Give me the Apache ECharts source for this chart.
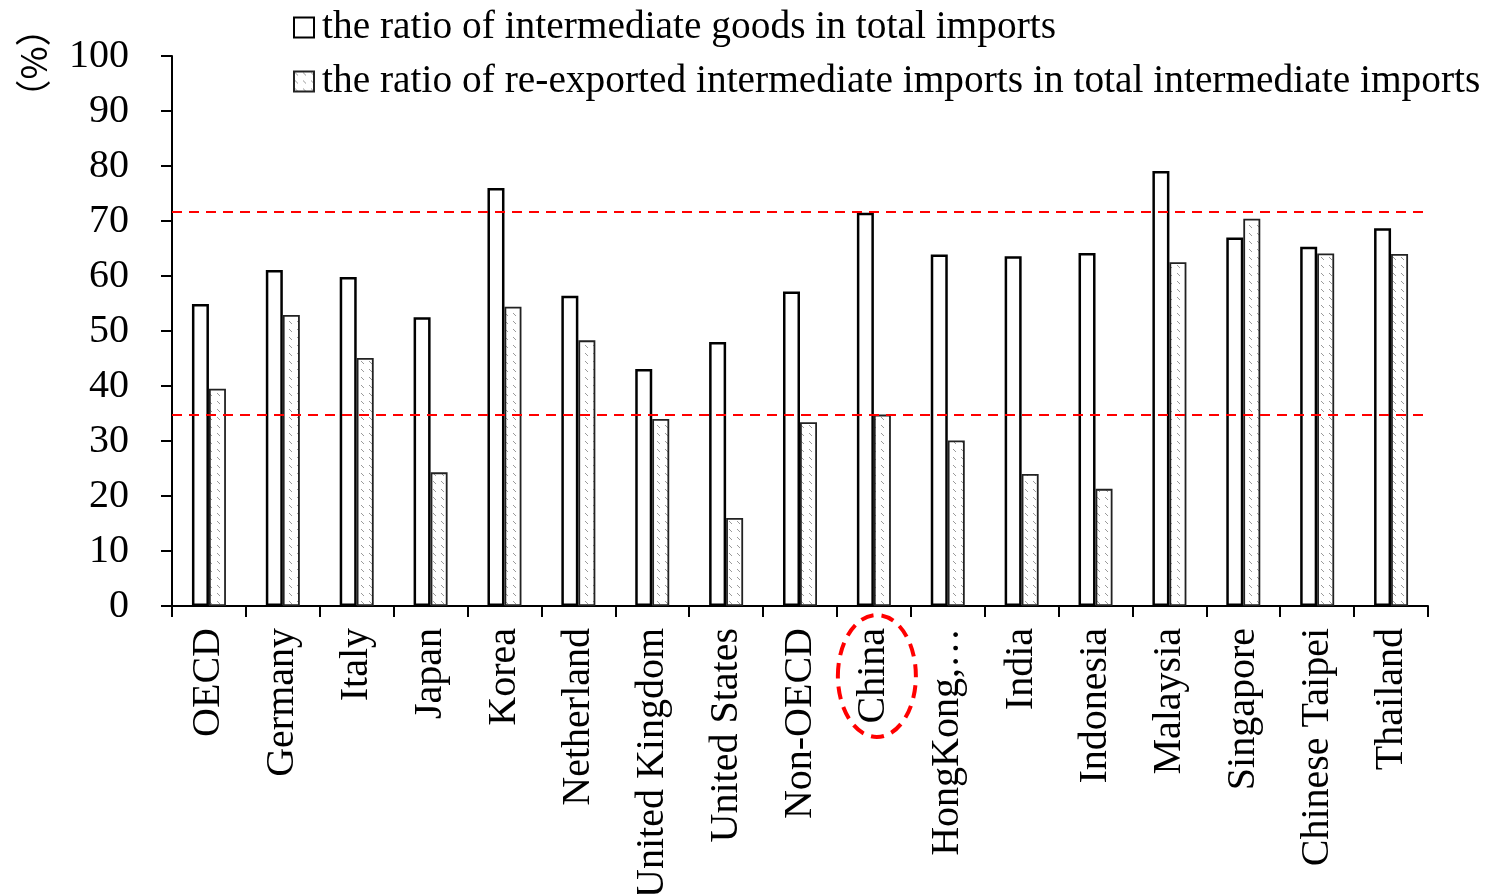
<!DOCTYPE html>
<html>
<head>
<meta charset="utf-8">
<script src="https://cdn.jsdelivr.net/npm/echarts@6/dist/echarts.min.js"></script>
<style>
html,body{margin:0;padding:0;background:#fff;}
#c{width:1487px;height:894px;}
</style>
</head>
<body>
<div id="c"></div>
<script>
const categories = ['OECD','Germany','Italy','Japan','Korea','Netherland','United Kingdom','United States','Non-OECD','China','HongKong,…','India','Indonesia','Malaysia','Singapore','Chinese Taipei','Thailand'];
const seriesNames = ['the ratio of intermediate goods in total imports','the ratio of re-exported intermediate imports in total intermediate imports'];
const intermediateShare = [54.9,61.1,59.8,52.5,76.0,56.4,43.1,48.0,57.2,71.5,63.9,63.6,64.2,79.1,67.0,65.3,68.7];
const reexportShare = [39.5,52.9,45.1,24.3,54.4,48.3,34.0,16.0,33.4,34.8,30.1,24.0,21.3,62.5,70.4,64.1,64.0];
const refLines = [71.6, 34.8];
const yTicks = {min:0, max:100, interval:10};
const highlightCategory = 'China';

const FONT = '"Liberation Serif","Times New Roman",serif';

// hatch pattern for second series
const pc = document.createElement('canvas');
pc.width = 8; pc.height = 8;
const px = pc.getContext('2d');
px.fillStyle = '#fff'; px.fillRect(0,0,8,8);
px.strokeStyle = '#9a9a9a'; px.lineWidth = 1;
px.beginPath(); px.moveTo(1,1); px.lineTo(4,4); px.stroke();

const chart = echarts.init(document.getElementById('c'));
chart.setOption({
  animation:false,
  backgroundColor:'#fff',
  textStyle:{fontFamily:FONT},
  legend:{
    orient:'vertical', left:288, top:3, itemWidth:20, itemHeight:20, itemGap:15,
    icon:'rect',
    textStyle:{fontFamily:FONT, fontSize:39.4, color:'#000', padding:[0,0,0,3]},
    data:seriesNames
  },
  grid:{left:172, right:59, top:56, bottom:288, containLabel:false, outerBoundsMode:'none'},
  xAxis:{
    type:'category', data:categories,
    axisLine:{lineStyle:{color:'#000', width:2}},
    axisTick:{show:true, length:11, lineStyle:{color:'#000', width:2}, alignWithLabel:false},
    axisLabel:{rotate:90, interval:0, margin:22, fontFamily:FONT, fontSize:40, color:'#000'}
  },
  yAxis:{
    type:'value', min:yTicks.min, max:yTicks.max, interval:yTicks.interval,
    axisLine:{show:true, lineStyle:{color:'#000', width:2}},
    axisTick:{show:true, length:11, lineStyle:{color:'#000', width:2}},
    splitLine:{show:false},
    axisLabel:{margin:43, fontFamily:FONT, fontSize:40, color:'#000'}
  },
  series:[
    {
      name:seriesNames[0], type:'bar', data:intermediateShare, barWidth:17, barGap:'0%',
      itemStyle:{color:'#fff', borderColor:'#000', borderWidth:2.5},
      markLine:{
        silent:true, symbol:'none', label:{show:false},
        lineStyle:{color:'#ff0000', type:[10,7], width:2},
        data:refLines.map(v=>({yAxis:v}))
      }
    },
    {
      name:seriesNames[1], type:'bar', data:reexportShare, barWidth:17,
      itemStyle:{color:{image:pc, repeat:'repeat'}, borderColor:'#222', borderWidth:1.8}
    }
  ]
});

const cx = chart.convertToPixel({xAxisIndex:0}, highlightCategory);
const y0 = chart.convertToPixel({yAxisIndex:0}, 0);
chart.setOption({
  graphic:[
    {type:'ellipse', shape:{cx:cx+3, cy:y0+70, rx:39, ry:61}, style:{fill:'none', stroke:'#ff0000', lineWidth:4, lineDash:[13,8]}, z:100},
    {type:'text', x:33, y:63, rotation:Math.PI/2, style:{text:'（%）', font:'36px "Noto Sans CJK SC"', fill:'#000', align:'center', verticalAlign:'middle'}}
  ]
});
</script>
</body>
</html>
